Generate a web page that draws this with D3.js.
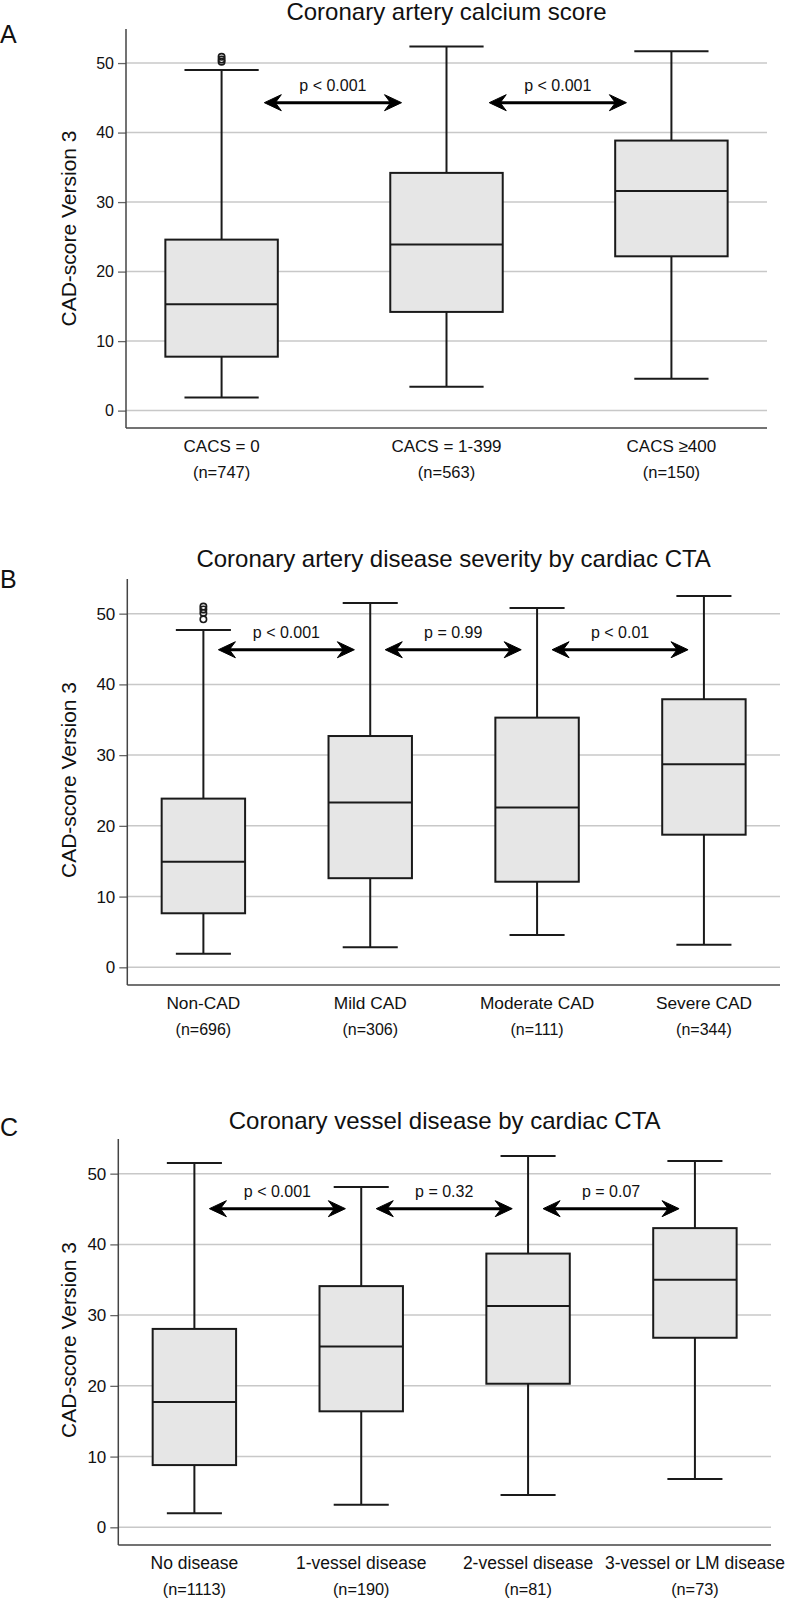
<!DOCTYPE html>
<html>
<head>
<meta charset="utf-8">
<script src="https://cdn.jsdelivr.net/npm/d3@7"></script>
<style>
  html, body { margin: 0; padding: 0; background: #fff; }
  svg { display: block; }
  text { font-family: "Liberation Sans", Arial, sans-serif; fill: #111; }
</style>
</head>
<body>
<script>
// ---------------- DATA ----------------
const yTicks = [0, 10, 20, 30, 40, 50];
const yLabel = "CAD-score Version 3";

// Panel A
const aTitle = "Coronary artery calcium score";
const aCategories = ["CACS = 0", "CACS = 1-399", "CACS \u2265400"];
const aN = ["(n=747)", "(n=563)", "(n=150)"];
const aLower = [1.9, 3.45, 4.6];
const aQ1 = [7.76, 14.2, 22.2];
const aMedian = [15.3, 23.9, 31.6];
const aQ3 = [24.6, 34.2, 38.85];
const aUpper = [49.0, 52.4, 51.7];
const aOutliers = [[50.2, 50.5, 50.9], [], []];
const aPFrom = [0, 1];
const aPTo = [1, 2];
const aPLabels = ["p < 0.001", "p < 0.001"];
const aArrowY = 44.3;

// Panel B
const bTitle = "Coronary artery disease severity by cardiac CTA";
const bCategories = ["Non-CAD", "Mild CAD", "Moderate CAD", "Severe CAD"];
const bN = ["(n=696)", "(n=306)", "(n=111)", "(n=344)"];
const bLower = [1.92, 2.83, 4.57, 3.2];
const bQ1 = [7.64, 12.6, 12.1, 18.75];
const bMedian = [14.94, 23.3, 22.6, 28.7];
const bQ3 = [23.85, 32.7, 35.3, 37.9];
const bUpper = [47.7, 51.5, 50.8, 52.5];
const bOutliers = [[51.0, 50.6, 50.1, 49.2], [], [], []];
const bPFrom = [0, 1, 2];
const bPTo = [1, 2, 3];
const bPLabels = ["p < 0.001", "p = 0.99", "p < 0.01"];
const bArrowY = 44.9;

// Panel C
const cTitle = "Coronary vessel disease by cardiac CTA";
const cCategories = ["No disease", "1-vessel disease", "2-vessel disease", "3-vessel or LM disease"];
const cN = ["(n=1113)", "(n=190)", "(n=81)", "(n=73)"];
const cLower = [1.98, 3.18, 4.58, 6.83];
const cQ1 = [8.8, 16.4, 20.3, 26.8];
const cMedian = [17.72, 25.55, 31.3, 35.0];
const cQ3 = [28.05, 34.1, 38.7, 42.3];
const cUpper = [51.5, 48.1, 52.5, 51.8];
const cOutliers = [[], [], [], []];
const cPFrom = [0, 1, 2];
const cPTo = [1, 2, 3];
const cPLabels = ["p < 0.001", "p = 0.32", "p = 0.07"];
const cArrowY = 45.05;

const yDomain = [-2.5, 54.9];

// ---------------- LAYOUT ----------------
const W = 787, H = 1599;
const svg = d3.select("body").append("svg").attr("width", W).attr("height", H);
svg.append("rect").attr("width", W).attr("height", H).attr("fill", "#fff");

const panels = [
  { letter: "A", letterY: 42.7, title: aTitle, titleY: 20,
    cats: aCategories, n: aN, lo: aLower, q1: aQ1, med: aMedian, q3: aQ3, hi: aUpper, out: aOutliers,
    pFrom: aPFrom, pTo: aPTo, pLabels: aPLabels, arrowY: aArrowY,
    x0: 126, x1: 767, top: 29, bottom: 428, padding: 0.425, tickFont: 16, catFont: 17, nFont: 16.5,
    arrowStart: 0.19, arrowEnd: 0.2, ylabY: 228.5 },
  { letter: "B", letterY: 588.3, title: bTitle, titleY: 566.7,
    cats: bCategories, n: bN, lo: bLower, q1: bQ1, med: bMedian, q3: bQ3, hi: bUpper, out: bOutliers,
    pFrom: bPFrom, pTo: bPTo, pLabels: bPLabels, arrowY: bArrowY,
    x0: 127.3, x1: 780, top: 579, bottom: 985, padding: 0.456, tickFont: 17, catFont: 17.3, nFont: 16,
    arrowStart: 0.09, arrowEnd: 0.095, ylabY: 780 },
  { letter: "C", letterY: 1136.2, title: cTitle, titleY: 1128.5,
    cats: cCategories, n: cN, lo: cLower, q1: cQ1, med: cMedian, q3: cQ3, hi: cUpper, out: cOutliers,
    pFrom: cPFrom, pTo: cPTo, pLabels: cPLabels, arrowY: cArrowY,
    x0: 118.3, x1: 771, top: 1139, bottom: 1545, padding: 0.456, tickFont: 17, catFont: 17.5, nFont: 16.3,
    arrowStart: 0.09, arrowEnd: 0.095, ylabY: 1340 }
];

function arrowHead(g, tipX, y, dir) {
  const L = 17, hw = 8, notch = 11;
  const p = d3.path();
  p.moveTo(tipX, y);
  p.lineTo(tipX - dir * L, y - hw);
  p.lineTo(tipX - dir * notch, y);
  p.lineTo(tipX - dir * L, y + hw);
  p.closePath();
  g.append("path").attr("d", p.toString()).attr("fill", "#000").attr("stroke", "#000")
    .attr("stroke-width", 1).attr("stroke-linejoin", "miter");
}

panels.forEach(P => {
  const g = svg.append("g");
  const x = d3.scalePoint().domain(P.cats).range([P.x0, P.x1]).padding(P.padding);
  const y = d3.scaleLinear().domain(yDomain).range([P.bottom, P.top]);
  const step = x.step();
  const boxW = step * 0.5, capW = step * 0.33;
  const xi = d3.scaleLinear().domain([0, P.cats.length - 1])
    .range([x(P.cats[0]), x(P.cats[P.cats.length - 1])]);

  g.append("g").selectAll("line").data(yTicks).join("line")
    .attr("x1", P.x0).attr("x2", P.x1)
    .attr("y1", d => y(d)).attr("y2", d => y(d))
    .attr("stroke", "#c8c8c8").attr("stroke-width", 1.5);

  const yAxis = d3.axisLeft(y).tickValues(yTicks).tickSize(8).tickPadding(4).tickFormat(d3.format("d"));
  const ya = g.append("g").attr("transform", `translate(${P.x0},0)`).call(yAxis);
  ya.select(".domain").remove();
  ya.selectAll(".tick line").attr("stroke", "#666").attr("stroke-width", 1.3);
  ya.selectAll(".tick text").attr("font-size", P.tickFont)
    .attr("font-family", '"Liberation Sans", Arial, sans-serif').attr("fill", "#222");

  g.append("line").attr("x1", P.x0).attr("x2", P.x0).attr("y1", P.top).attr("y2", P.bottom)
    .attr("stroke", "#444").attr("stroke-width", 1.5);
  g.append("line").attr("x1", P.x0).attr("x2", P.x1).attr("y1", P.bottom).attr("y2", P.bottom)
    .attr("stroke", "#444").attr("stroke-width", 1.5);

  const rows = P.cats.map((c, i) => ({ c, lo: P.lo[i], q1: P.q1[i], med: P.med[i], q3: P.q3[i], hi: P.hi[i], out: P.out[i] }));
  const bx = g.append("g").selectAll("g").data(rows).join("g");
  const sw = 2;
  bx.append("line").attr("x1", d => x(d.c)).attr("x2", d => x(d.c))
    .attr("y1", d => y(d.hi)).attr("y2", d => y(d.q3)).attr("stroke", "#1a1a1a").attr("stroke-width", sw);
  bx.append("line").attr("x1", d => x(d.c)).attr("x2", d => x(d.c))
    .attr("y1", d => y(d.q1)).attr("y2", d => y(d.lo)).attr("stroke", "#1a1a1a").attr("stroke-width", sw);
  bx.append("line").attr("x1", d => x(d.c) - capW / 2).attr("x2", d => x(d.c) + capW / 2)
    .attr("y1", d => y(d.hi)).attr("y2", d => y(d.hi)).attr("stroke", "#1a1a1a").attr("stroke-width", sw);
  bx.append("line").attr("x1", d => x(d.c) - capW / 2).attr("x2", d => x(d.c) + capW / 2)
    .attr("y1", d => y(d.lo)).attr("y2", d => y(d.lo)).attr("stroke", "#1a1a1a").attr("stroke-width", sw);
  bx.append("rect").attr("x", d => x(d.c) - boxW / 2).attr("width", boxW)
    .attr("y", d => y(d.q3)).attr("height", d => y(d.q1) - y(d.q3))
    .attr("fill", "#e6e6e6").attr("stroke", "#1a1a1a").attr("stroke-width", sw);
  bx.append("line").attr("x1", d => x(d.c) - boxW / 2).attr("x2", d => x(d.c) + boxW / 2)
    .attr("y1", d => y(d.med)).attr("y2", d => y(d.med)).attr("stroke", "#1a1a1a").attr("stroke-width", sw);
  bx.each(function (d) {
    d3.select(this).selectAll("circle").data(d.out).join("circle")
      .attr("cx", x(d.c)).attr("cy", v => y(v)).attr("r", 3.2)
      .attr("fill", "none").attr("stroke", "#1a1a1a").attr("stroke-width", 1.6);
  });

  P.pFrom.forEach((f, k) => {
    const xa = xi(f + P.arrowStart), xb = xi(P.pTo[k] - P.arrowEnd), ya2 = y(P.arrowY);
    g.append("line").attr("x1", xa + 10).attr("x2", xb - 10).attr("y1", ya2).attr("y2", ya2)
      .attr("stroke", "#000").attr("stroke-width", 3);
    arrowHead(g, xa, ya2, -1);
    arrowHead(g, xb, ya2, 1);
    g.append("text").attr("x", (xa + xb) / 2).attr("y", ya2 - 11.5)
      .attr("text-anchor", "middle").attr("font-size", 16).text(P.pLabels[k]);
  });

  g.append("g").selectAll("text").data(P.cats).join("text")
    .attr("x", d => x(d)).attr("y", P.bottom + 23.5).attr("text-anchor", "middle")
    .attr("font-size", P.catFont).text(d => d);
  g.append("g").selectAll("text").data(P.n).join("text")
    .attr("x", (d, i) => x(P.cats[i])).attr("y", P.bottom + 49.5).attr("text-anchor", "middle")
    .attr("font-size", P.nFont).text(d => d);

  g.append("text").attr("transform", `translate(76,${P.ylabY}) rotate(-90)`)
    .attr("text-anchor", "middle").attr("font-size", 21).text(yLabel);

  g.append("text").attr("x", (P.x0 + P.x1) / 2).attr("y", P.titleY).attr("text-anchor", "middle")
    .attr("font-size", 24).text(P.title);

  g.append("text").attr("x", 0).attr("y", P.letterY).attr("font-size", 25)
    .attr("font-family", "Lato, 'Open Sans', sans-serif").text(P.letter);
});
</script>
</body>
</html>
